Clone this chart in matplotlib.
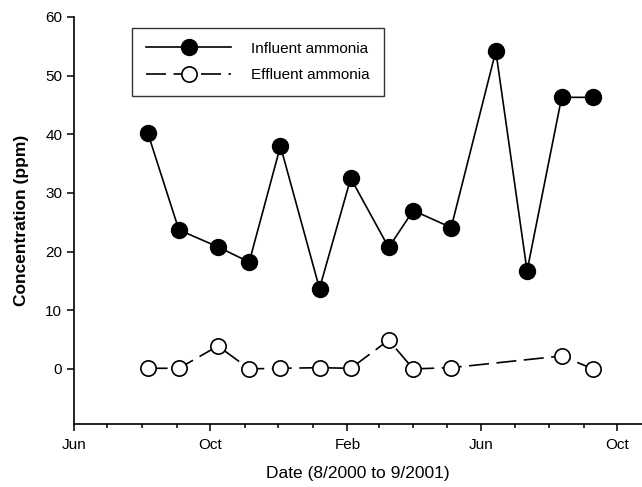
import matplotlib
matplotlib.use("Agg")
import matplotlib.pyplot as plt
import matplotlib.dates as mdates
import numpy as np

plt.rcParams['font.family'] = ['Liberation Sans', 'DejaVu Sans']

influent_dates = ["2000-08-06", "2000-09-03", "2000-10-08", "2000-11-05", "2000-12-03",
                  "2001-01-07", "2001-02-04", "2001-03-10", "2001-04-01", "2001-05-05",
                  "2001-06-14", "2001-07-12", "2001-08-12", "2001-09-09"]
influent_ppm = [40.3, 23.7, 20.8, 18.2, 38.0, 13.7, 32.5, 20.7, 27.0, 24.1, 54.2, 16.7, 46.3, 46.3]

effluent_dates = ["2000-08-06", "2000-09-03", "2000-10-08", "2000-11-05", "2000-12-03",
                  "2001-01-07", "2001-02-04", "2001-03-10", "2001-04-01", "2001-05-05",
                  "2001-08-12", "2001-09-09"]
effluent_ppm = [0.1, 0.1, 3.9, 0.0, 0.1, 0.2, 0.1, 4.9, 0.0, 0.2, 2.2, 0.0]

x_label = "Date (8/2000 to 9/2001)"
y_label = "Concentration (ppm)"
y_ticks = [0, 10, 20, 30, 40, 50, 60]

fig = plt.figure(figsize=(6.42, 4.87), dpi=100)
ax = fig.add_axes([74/642, 1 - 424/487, 1 - 74/642, (424 - 17)/487])

xi = [np.datetime64(d) for d in influent_dates]
xe = [np.datetime64(d) for d in effluent_dates]

ax.plot(xi, influent_ppm, color='black', lw=1.2, marker='o', markersize=11.5,
        markerfacecolor='black', markeredgecolor='black', label='Influent ammonia')
ax.plot(xe, effluent_ppm, color='black', lw=1.2, dashes=(12, 4.5), marker='o', markersize=11,
        markerfacecolor='white', markeredgecolor='black', markeredgewidth=1.2,
        label='Effluent ammonia')

ax.set_xlim(np.datetime64("2000-06-01"), np.datetime64("2001-10-23"))
ax.set_ylim(-9.4, 60)
ax.set_yticks(y_ticks)

ax.xaxis.set_major_locator(mdates.MonthLocator(bymonth=[2, 6, 10]))
ax.xaxis.set_major_formatter(mdates.DateFormatter('%b'))
ax.xaxis.set_minor_locator(mdates.MonthLocator())

ax.spines['top'].set_visible(False)
ax.spines['right'].set_visible(False)
for s in ['left', 'bottom']:
    ax.spines[s].set_linewidth(1.2)

ax.tick_params(axis='both', which='major', direction='out', length=5, width=1.1, labelsize=11)
ax.tick_params(axis='x', which='minor', direction='out', length=3, width=1.1)
ax.tick_params(axis='x', which='major', pad=5)

ax.set_xlabel(x_label, fontsize=12.5, labelpad=10)
ax.set_ylabel(y_label, fontsize=12.5, fontweight='bold', labelpad=12)

leg = ax.legend(loc='upper left', bbox_to_anchor=((132 - 74) / (642 - 74), 1 - (28 - 17) / 407),
                frameon=True, fancybox=False, edgecolor='black', fontsize=11,
                handlelength=5.6, handletextpad=1.3, borderpad=0.9, labelspacing=0.8,
                borderaxespad=0)
leg.get_frame().set_linewidth(1.0)

fig.savefig("out.png", dpi=100)
